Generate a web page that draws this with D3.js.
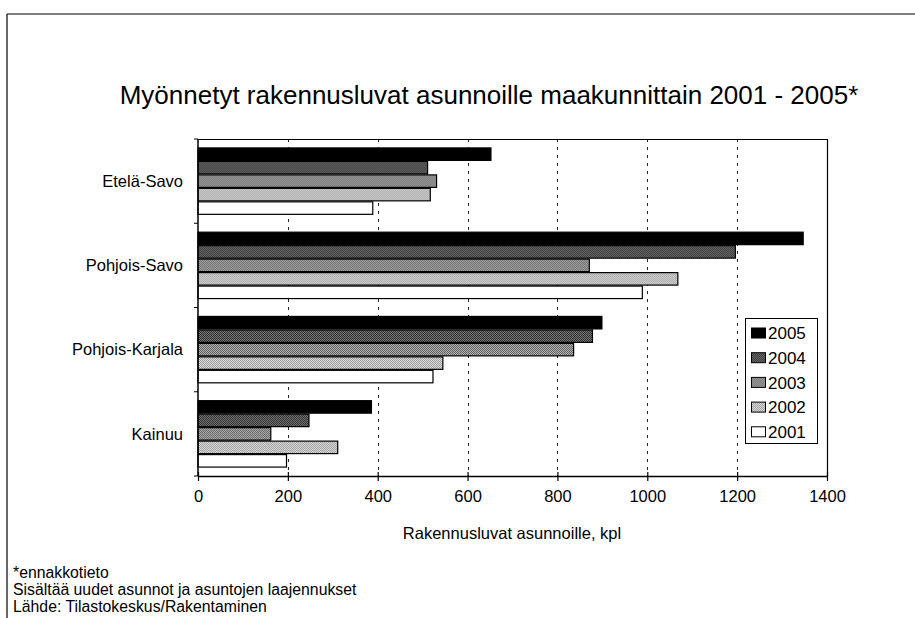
<!DOCTYPE html>
<html>
<head>
<meta charset="utf-8">
<script src="https://cdn.jsdelivr.net/npm/d3@7/dist/d3.min.js"></script>
<style>
  html, body { margin: 0; padding: 0; background: #fff; }
  svg { display: block; font-family: "Liberation Sans", Arial, sans-serif; }
</style>
</head>
<body>
<svg id="chart" width="915" height="618"></svg>
<script>
// Regions (top to bottom) and years (top to bottom within each region)
const regions = ["Etelä-Savo", "Pohjois-Savo", "Pohjois-Karjala", "Kainuu"];
const years = ["2005", "2004", "2003", "2002", "2001"];

// Building permits for dwellings, per region, one array per year
const v2005 = [652, 1347, 899, 386];
const v2004 = [511, 1196, 878, 247];
const v2003 = [531, 871, 836, 162];
const v2002 = [517, 1068, 545, 311];
const v2001 = [389, 989, 523, 197];

const xTicks = [0, 200, 400, 600, 800, 1000, 1200, 1400];

const titleText = "Myönnetyt rakennusluvat asunnoille maakunnittain 2001 - 2005*";
const xAxisTitle = "Rakennusluvat asunnoille, kpl";
const notes = [
  "*ennakkotieto",
  "Sisältää uudet asunnot ja asuntojen laajennukset",
  "Lähde: Tilastokeskus/Rakentaminen"
];

const seriesByYear = { "2005": v2005, "2004": v2004, "2003": v2003, "2002": v2002, "2001": v2001 };

const svg = d3.select("#chart");

// Fill patterns: dotted greys of different density
const defs = svg.append("defs");
function dotPattern(id, bg, dot) {
  const p = defs.append("pattern").attr("id", id)
    .attr("width", 2).attr("height", 2).attr("patternUnits", "userSpaceOnUse");
  p.append("rect").attr("width", 2).attr("height", 2).attr("fill", bg);
  p.append("rect").attr("width", 1).attr("height", 1).attr("fill", dot);
  p.append("rect").attr("x", 1).attr("y", 1).attr("width", 1).attr("height", 1).attr("fill", dot);
}
dotPattern("p2004", "#7a7a7a", "#2a2a2a");
dotPattern("p2003", "#b4b4b4", "#5e5e5e");
dotPattern("p2002", "#e0e0e0", "#9a9a9a");

const fills = {
  "2005": "#000",
  "2004": "url(#p2004)",
  "2003": "url(#p2003)",
  "2002": "url(#p2002)",
  "2001": "#fff"
};

// Outer frame (left and top edges)
svg.append("line").attr("x1", 7).attr("x2", 915).attr("y1", 14).attr("y2", 14)
  .attr("stroke", "#000").attr("stroke-width", 1.2);
svg.append("line").attr("x1", 7).attr("x2", 7).attr("y1", 14).attr("y2", 618)
  .attr("stroke", "#000").attr("stroke-width", 1.2);

// Title
svg.append("text").attr("x", 489).attr("y", 104)
  .attr("text-anchor", "middle").attr("font-size", 26).attr("fill", "#000")
  .text(titleText);

// Plot area
const plot = { left: 198, right: 827, top: 139, bottom: 476 };

const x = d3.scaleLinear().domain([0, 1400]).range([plot.left, plot.right]);
const y = d3.scaleBand().domain(regions).range([plot.top, plot.bottom])
  .paddingInner(0.2).paddingOuter(0.1);
const yInner = d3.scaleBand().domain(years).range([0, y.bandwidth()]).padding(0);

// Vertical dashed gridlines
svg.append("g").selectAll("line")
  .data(xTicks.filter(t => t > 0 && t < 1400))
  .join("line")
  .attr("x1", d => Math.round(x(d)) + 0.5).attr("x2", d => Math.round(x(d)) + 0.5)
  .attr("y1", plot.top).attr("y2", plot.bottom)
  .attr("stroke", "#222").attr("stroke-width", 1)
  .attr("stroke-dasharray", "3,5");

// Plot frame: top and right edges
svg.append("path")
  .attr("d", `M${plot.left},${plot.top + 0.5}H${plot.right + 0.5}V${plot.bottom}`)
  .attr("fill", "none").attr("stroke", "#000").attr("stroke-width", 1.2);

// Bars
const groups = svg.append("g").selectAll("g")
  .data(regions)
  .join("g")
  .attr("transform", d => `translate(0,${y(d)})`);

groups.selectAll("rect")
  .data((r, i) => years.map(yr => ({ year: yr, value: seriesByYear[yr][i] })))
  .join("rect")
  .attr("x", x(0))
  .attr("y", d => yInner(d.year) + 0.5)
  .attr("width", d => x(d.value) - x(0))
  .attr("height", yInner.bandwidth() - 1)
  .attr("fill", d => fills[d.year])
  .attr("stroke", "#000").attr("stroke-width", 1.2);

// X axis
const xAxis = d3.axisBottom(x).tickValues(xTicks).tickFormat(d3.format("d"))
  .tickSize(0).tickPadding(14);
const gx = svg.append("g").attr("transform", `translate(0,${plot.bottom})`).call(xAxis);
gx.select(".domain").attr("stroke", "#000").attr("stroke-width", 1.5);
gx.selectAll(".tick text").attr("font-size", 16.5).attr("fill", "#000")
  .attr("font-family", "Liberation Sans, Arial, sans-serif");
gx.selectAll(".tick").append("line")
  .attr("y1", -4).attr("y2", 5).attr("stroke", "#000").attr("stroke-width", 1.2);

// Y axis: line with category separator ticks
const gy = svg.append("g");
gy.append("line").attr("x1", plot.left).attr("x2", plot.left)
  .attr("y1", plot.top).attr("y2", plot.bottom)
  .attr("stroke", "#000").attr("stroke-width", 1.5);
const step = (plot.bottom - plot.top) / regions.length;
gy.selectAll(".sep")
  .data(d3.range(regions.length + 1))
  .join("line")
  .attr("class", "sep")
  .attr("x1", plot.left - 4).attr("x2", plot.left)
  .attr("y1", i => plot.top + i * step).attr("y2", i => plot.top + i * step)
  .attr("stroke", "#000");
gy.selectAll("text")
  .data(regions)
  .join("text")
  .attr("x", plot.left - 15)
  .attr("y", d => y(d) + y.bandwidth() / 2)
  .attr("dy", "0.35em")
  .attr("text-anchor", "end")
  .attr("font-size", 16.5).attr("fill", "#000")
  .text(d => d);

// X axis title
svg.append("text").attr("x", 512).attr("y", 539)
  .attr("text-anchor", "middle").attr("font-size", 16.5).attr("fill", "#000")
  .text(xAxisTitle);

// Legend
const lg = svg.append("g").attr("transform", "translate(745,318)");
lg.append("rect").attr("x", 0.5).attr("y", 0.5).attr("width", 72).attr("height", 125)
  .attr("fill", "#fff").attr("stroke", "#000").attr("stroke-width", 1);
const li = lg.selectAll(".item").data(years).join("g").attr("class", "item")
  .attr("transform", (d, i) => `translate(6,${15 + i * 24.7})`);
li.append("rect").attr("x", 0.5).attr("y", -5).attr("width", 14).attr("height", 10)
  .attr("fill", d => fills[d]).attr("stroke", "#000").attr("stroke-width", 1);
li.append("text").attr("x", 17).attr("y", 0).attr("dy", "0.36em")
  .attr("font-size", 17).attr("fill", "#000").text(d => d);

// Footnotes
svg.append("g").selectAll("text").data(notes).join("text")
  .attr("x", 13).attr("y", (d, i) => 578 + i * 17)
  .attr("font-size", 15.8).attr("fill", "#000")
  .text(d => d);
</script>
</body>
</html>
